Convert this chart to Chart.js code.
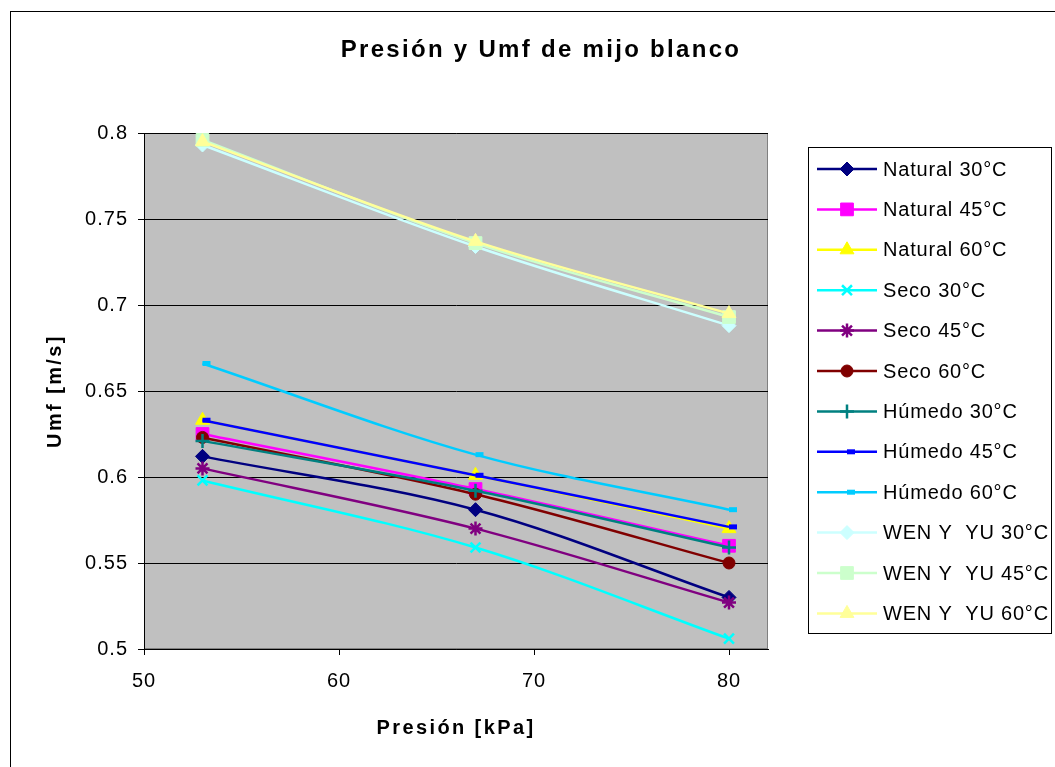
<!DOCTYPE html>
<html>
<head>
<meta charset="utf-8">
<script src="https://cdn.jsdelivr.net/npm/chart.js@4.4.1/dist/chart.umd.min.js"></script>
<style>
  html, body { margin: 0; padding: 0; background: #fff; }
</style>
</head>
<body>
<canvas id="chart" width="1055" height="767"></canvas>
<script>
// ── Data ──────────────────────────────────────────────────
var presion    = [53, 67, 80];
var xTicks     = [50, 60, 70, 80];

var natural30  = [0.612, 0.581, 0.530];
var natural45  = [0.625, 0.593, 0.560];
var natural60  = [0.633, 0.601, 0.570];
var seco30     = [0.598, 0.559, 0.506];
var seco45     = [0.605, 0.570, 0.527];
var seco60     = [0.623, 0.590, 0.550];
var humedo30   = [0.621, 0.592, 0.559];
var humedo45   = [0.633, 0.601, 0.571];
var humedo60   = [0.666, 0.613, 0.581];
var wenyu30    = [0.793, 0.734, 0.688];
var wenyu45    = [0.796, 0.736, 0.693];
var wenyu60    = [0.795, 0.737, 0.695];

// ── Series look ───────────────────────────────────────────
var SERIES = [
  { label: "Natural 30°C",   values: natural30, color: "#000080", style: "rectRot",  r: 7 },
  { label: "Natural 45°C",   values: natural45, color: "#ff00ff", style: "rect",     r: 9 },
  { label: "Natural 60°C",   values: natural60, color: "#ffff00", style: "triangle", r: 8 },
  { label: "Seco 30°C",      values: seco30,    color: "#00ffff", style: "crossRot", r: 7, line: true },
  { label: "Seco 45°C",      values: seco45,    color: "#800080", style: "star",     r: 7, line: true },
  { label: "Seco 60°C",      values: seco60,    color: "#800000", style: "circle",   r: 6 },
  { label: "Húmedo 30°C",    values: humedo30,  color: "#008080", style: "cross",    r: 7, line: true },
  { label: "Húmedo 45°C",    values: humedo45,  color: "#0000ff", style: "dash",     r: 8, dash: true },
  { label: "Húmedo 60°C",    values: humedo60,  color: "#00ccff", style: "dash",     r: 8, dash: true },
  { label: "WEN Y  YU 30°C", values: wenyu30,   color: "#ccffff", style: "rectRot",  r: 7 },
  { label: "WEN Y  YU 45°C", values: wenyu45,   color: "#ccffcc", style: "rect",     r: 9 },
  { label: "WEN Y  YU 60°C", values: wenyu60,   color: "#ffff99", style: "triangle", r: 8 }
];

var datasets = SERIES.map(function(s, i) {
  return {
    label: s.label,
    data: s.values.map(function(v, j) { return { x: presion[j], y: v }; }),
    borderColor: s.color,
    borderWidth: 2.5,
    tension: 0.33,
    pointStyle: s.style,
    pointRadius: s.r,
    pointHoverRadius: s.r,
    pointBackgroundColor: s.color,
    pointBorderColor: s.color,
    pointBorderWidth: s.dash ? 5 : (s.line ? 2.5 : 1),
    order: -i
  };
});

var FONT = '"Liberation Sans", Arial, sans-serif';

// ── Plugins: background/frame, titles, side legend ────────
var framePlugin = {
  id: "frame",
  beforeDraw: function(chart) {
    var ctx = chart.ctx, a = chart.chartArea;
    ctx.save();
    ctx.fillStyle = "#ffffff";
    ctx.fillRect(0, 0, chart.width, chart.height);
    ctx.strokeStyle = "#000000";
    ctx.lineWidth = 1;
    ctx.strokeRect(10.5, 11.5, 1100, 800);
    ctx.fillStyle = "#c0c0c0";
    ctx.fillRect(a.left, a.top, a.right - a.left, a.bottom - a.top);
    ctx.strokeStyle = "#808080";
    ctx.strokeRect(a.left + 0.5, a.top + 0.5, a.right - a.left - 1, a.bottom - a.top - 1);
    ctx.restore();
    ctx.letterSpacing = "1px";   // tick labels
  },
  afterDraw: function(chart) {
    var ctx = chart.ctx, a = chart.chartArea;
    ctx.save();
    ctx.fillStyle = "#000";
    ctx.textAlign = "center";
    ctx.textBaseline = "middle";

    ctx.font = "bold 24px " + FONT;
    ctx.letterSpacing = "2.3px";
    ctx.fillText("Presión y Umf de mijo blanco", 541, 50);

    ctx.font = "bold 20px " + FONT;
    ctx.letterSpacing = "2.4px";
    ctx.fillText("Presión [kPa]", (a.left + a.right) / 2, 728);

    ctx.translate(55, (a.top + a.bottom) / 2);
    ctx.rotate(-Math.PI / 2);
    ctx.fillText("Umf [m/s]", 0, 0);
    ctx.restore();

    // legend
    ctx.save();
    ctx.strokeStyle = "#000";
    ctx.lineWidth = 1;
    ctx.strokeRect(808.5, 147.5, 243, 486);
    chart.data.datasets.forEach(function(ds, i) {
      var y = 169 + i * 40.4;
      ctx.strokeStyle = ds.borderColor;
      ctx.lineWidth = ds.borderWidth;
      ctx.beginPath();
      ctx.moveTo(817, y);
      ctx.lineTo(877, y);
      ctx.stroke();
      ctx.fillStyle = ds.pointBackgroundColor;
      ctx.strokeStyle = ds.pointBorderColor;
      ctx.lineWidth = ds.pointBorderWidth;
      Chart.helpers.drawPoint(ctx, {
        pointStyle: ds.pointStyle, radius: ds.pointRadius,
        rotation: 0, borderWidth: ds.pointBorderWidth
      }, 847, y);
      ctx.fillStyle = "#000";
      ctx.font = "20px " + FONT;
      ctx.letterSpacing = "0.8px";
      ctx.textAlign = "left";
      ctx.textBaseline = "middle";
      ctx.fillText(ds.label, 883, y + 1);
    });
    ctx.restore();
    ctx.letterSpacing = "0px";
  }
};

new Chart(document.getElementById("chart"), {
  type: "line",
  data: { datasets: datasets },
  options: {
    responsive: false,
    animation: false,
    devicePixelRatio: 1,
    layout: { padding: { top: 133, right: 287, left: 0, bottom: 0 } },
    plugins: {
      legend: { display: false },
      title: { display: false },
      tooltip: { enabled: false }
    },
    scales: {
      x: {
        type: "linear",
        min: 50,
        max: 82,
        afterFit: function(scale) { scale.height = 118; },
        afterBuildTicks: function(scale) {
          scale.ticks = xTicks.map(function(v) { return { value: v }; });
        },
        grid: { drawOnChartArea: false, drawTicks: true, tickLength: 6, tickColor: "#000" },
        border: { display: true, color: "#000", width: 1 },
        ticks: { color: "#000", font: { family: FONT, size: 20 }, padding: 14, maxRotation: 0 }
      },
      y: {
        min: 0.5,
        max: 0.8,
        afterFit: function(scale) { scale.width = 144; },
        grid: { color: "#000", lineWidth: 1, drawTicks: true, tickLength: 6, tickColor: "#000" },
        border: { display: true, color: "#000", width: 1 },
        ticks: {
          stepSize: 0.05,
          color: "#000",
          font: { family: FONT, size: 20 },
          padding: 10,
          callback: function(v) { return String(+v.toFixed(2)); }
        }
      }
    }
  },
  plugins: [framePlugin]
});
</script>
</body>
</html>
